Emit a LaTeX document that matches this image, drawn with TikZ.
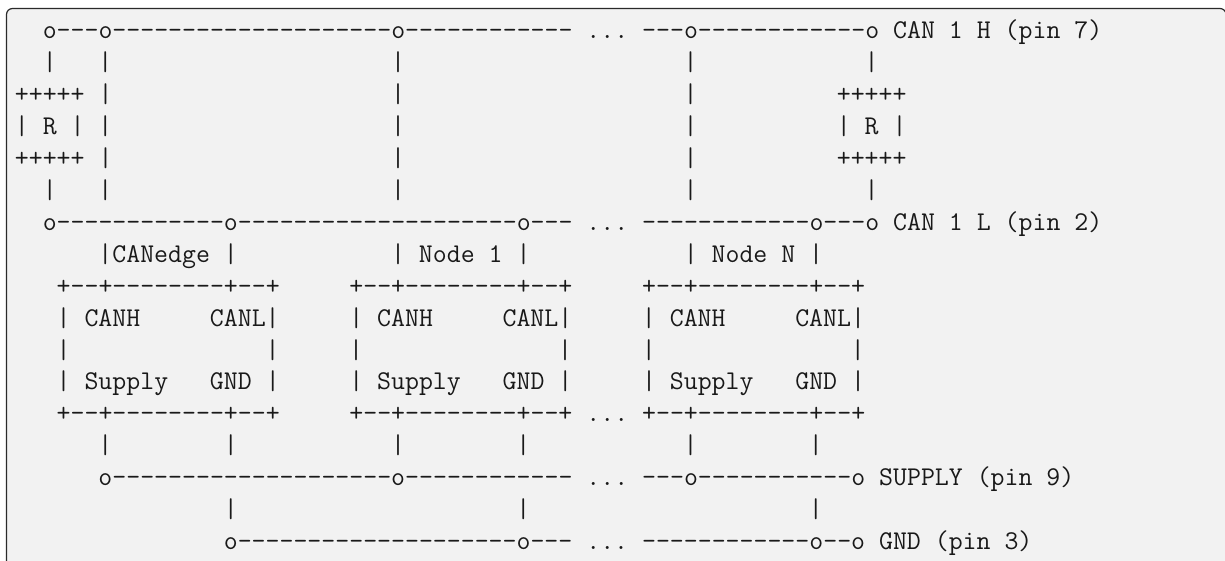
\documentclass[tikz,border=0pt]{standalone}
\definecolor{panelfill}{HTML}{F2F2F2}
\definecolor{panelline}{HTML}{2A2A2A}
\newlength{\cellw}
\setlength{\cellw}{13.93pt}
\newcommand{\gap}[1]{\hspace*{#1\cellw}}
\tikzset{
  asciirow/.style={anchor=base west,inner sep=0pt,outer sep=0pt,text=black!90,
    font=\fontsize{27.07pt}{32pt}\selectfont\ttfamily},
  panel/.style={draw=panelline,fill=panelfill,line width=1.2pt,rounded corners=6pt}
}
\begin{document}
\begin{tikzpicture}[x=1pt,y=-1pt]
\useasboundingbox (0,0) rectangle (1225,560);
\fill[white] (0,0) rectangle (1225,560);
\begin{scope}
\clip (0,0) rectangle (1225,560);
\draw[panel] (6.5,600) -- (6.5,8.5) -- (1226,8.5) -- (1226,600);
\end{scope}
\node[asciirow] (r01) at (14.9,38.5) {\gap{2}o---o--------------------o------------~...~---o------------o~CAN~1~H~(pin~7)};
\node[asciirow] (r02) at (14.9,70.45) {\gap{2}|\gap{3}|\gap{20}|\gap{20}|\gap{12}|};
\node[asciirow] (r03) at (14.9,102.4) {+++++\gap{1}|\gap{20}|\gap{20}|\gap{10}+++++};
\node[asciirow] (r04) at (14.9,134.35) {|\gap{1}R\gap{1}|\gap{1}|\gap{20}|\gap{20}|\gap{10}|\gap{1}R\gap{1}|};
\node[asciirow] (r05) at (14.9,166.3) {+++++\gap{1}|\gap{20}|\gap{20}|\gap{10}+++++};
\node[asciirow] (r06) at (14.9,198.25) {\gap{2}|\gap{3}|\gap{20}|\gap{20}|\gap{12}|};
\node[asciirow] (r07) at (14.9,230.2) {\gap{2}o------------o--------------------o---~...~------------o---o~CAN~1~L~(pin~2)};
\node[asciirow] (r08) at (14.9,262.15) {\gap{6}|CANedge~|\gap{11}|~Node~1~|\gap{11}|~Node~N~|};
\node[asciirow] (r09) at (14.9,294.1) {\gap{3}+--+--------+--+\gap{5}+--+--------+--+\gap{5}+--+--------+--+};
\node[asciirow] (r10) at (14.9,326.05) {\gap{3}|~CANH\gap{5}CANL|\gap{5}|~CANH\gap{5}CANL|\gap{5}|~CANH\gap{5}CANL|};
\node[asciirow] (r11) at (14.9,358) {\gap{3}|\gap{14}|\gap{5}|\gap{14}|\gap{5}|\gap{14}|};
\node[asciirow] (r12) at (14.9,389.95) {\gap{3}|~Supply\gap{3}GND~|\gap{5}|~Supply\gap{3}GND~|\gap{5}|~Supply\gap{3}GND~|};
\node[asciirow] (r13) at (14.9,421.9) {\gap{3}+--+--------+--+\gap{5}+--+--------+--+~...~+--+--------+--+};
\node[asciirow] (r14) at (14.9,453.85) {\gap{6}|\gap{8}|\gap{11}|\gap{8}|\gap{11}|\gap{8}|};
\node[asciirow] (r15) at (14.9,485.8) {\gap{6}o--------------------o------------~...~---o-----------o~SUPPLY~(pin~9)};
\node[asciirow] (r16) at (14.9,517.75) {\gap{15}|\gap{20}|\gap{20}|};
\node[asciirow] (r17) at (14.9,549.7) {\gap{15}o--------------------o---~...~------------o--o~GND~(pin~3)};
\end{tikzpicture}
\end{document}
